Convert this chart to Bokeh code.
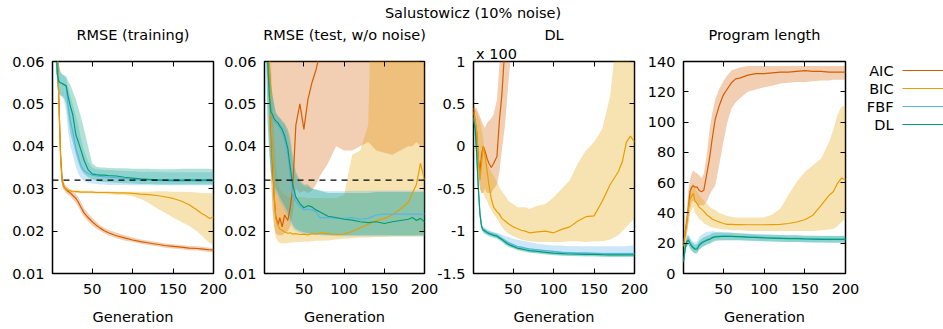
from bokeh.plotting import figure
from bokeh.models import Range1d, FixedTicker, LinearAxis, Span, Div
from bokeh.layouts import row, column
from bokeh.embed import file_html
from bokeh.resources import INLINE
from bokeh.core.properties import value

# ---------------- data ----------------
GEN = [1, 3, 5, 7, 9, 11, 13, 15, 18, 20, 23, 26, 30, 33, 36, 40, 45, 50, 55, 60,
       65, 70, 80, 90, 100, 110, 120, 130, 140, 150, 160, 170, 180, 185, 190, 195, 200]

SERIES = ["AIC", "BIC", "FBF", "DL"]
COLORS = ["#d55e00", "#e69f00", "#56b4e9", "#009e73"]

MAIN_TITLE = "Salustowicz (10% noise)"
PANEL_TITLES = ["RMSE (training)", "RMSE (test, w/o noise)", "DL", "Program length"]
X_LABEL = "Generation"
X_TICKS = [50, 100, 150, 200]
X_TICK_LABELS = ["50", "100", "150", "200"]
RMSE_TICKS = [0.01, 0.02, 0.03, 0.04, 0.05, 0.06]
RMSE_TICK_LABELS = ["0.01", "0.02", "0.03", "0.04", "0.05", "0.06"]
DL_TICKS = [-1.5, -1, -0.5, 0, 0.5, 1]
DL_TICK_LABELS = ["-1.5", "-1", "-0.5", "0", "0.5", "1"]
DL_SCALE_NOTE = "x 100"
LEN_TICKS = [0, 20, 40, 60, 80, 100, 120, 140]
LEN_TICK_LABELS = ["0", "20", "40", "60", "80", "100", "120", "140"]
NOISE_RMSE = 0.032

# --- RMSE (training)
TR_AIC = [0.11, 0.09, 0.075, 0.062, 0.05, 0.038, 0.032, 0.0305, 0.0298, 0.0294,
          0.029, 0.0284, 0.0277, 0.0268, 0.0257, 0.0243, 0.0232, 0.0222, 0.0214, 0.0207,
          0.0201, 0.0196, 0.0189, 0.0184, 0.0179, 0.0175, 0.0172, 0.0169, 0.0166, 0.0164,
          0.0162, 0.016, 0.0159, 0.0158, 0.0157, 0.0156, 0.0155]
TR_AIC_HI = [0.12, 0.1, 0.08, 0.066, 0.054, 0.041, 0.0335, 0.0315, 0.0306, 0.0302,
             0.0298, 0.0293, 0.0287, 0.0279, 0.0268, 0.0254, 0.0242, 0.0231, 0.0222, 0.0214,
             0.0208, 0.0203, 0.0196, 0.019, 0.0185, 0.018, 0.0177, 0.0174, 0.0171, 0.0169,
             0.0167, 0.0165, 0.0164, 0.0163, 0.0162, 0.0161, 0.016]
TR_AIC_LO = [0.1, 0.08, 0.07, 0.058, 0.046, 0.035, 0.0305, 0.0297, 0.029, 0.0286,
             0.0282, 0.0275, 0.0267, 0.0257, 0.0246, 0.0233, 0.0223, 0.0214, 0.0206, 0.02,
             0.0195, 0.019, 0.0183, 0.0178, 0.0174, 0.017, 0.0167, 0.0164, 0.0161, 0.0159,
             0.0157, 0.0155, 0.0154, 0.0153, 0.0152, 0.0151, 0.015]
TR_BIC = [0.11, 0.09, 0.075, 0.062, 0.05, 0.037, 0.0315, 0.0305, 0.0299, 0.0297,
          0.0295, 0.0294, 0.0293, 0.0293, 0.0292, 0.0292, 0.0292, 0.0292, 0.0291, 0.0291,
          0.0291, 0.0291, 0.029, 0.029, 0.0289, 0.0287, 0.0286, 0.0284, 0.0281, 0.0277,
          0.0271, 0.0262, 0.0249, 0.0242, 0.0237, 0.023, 0.0233]
TR_BIC_HI = [0.12, 0.1, 0.08, 0.066, 0.054, 0.04, 0.0322, 0.031, 0.0303, 0.03,
             0.0298, 0.0297, 0.0296, 0.0296, 0.0295, 0.0295, 0.0295, 0.0295, 0.0294, 0.0294,
             0.0294, 0.0294, 0.0293, 0.0293, 0.0293, 0.0293, 0.0293, 0.0294, 0.0294, 0.0293,
             0.0293, 0.0292, 0.0291, 0.029, 0.029, 0.0289, 0.0289]
TR_BIC_LO = [0.1, 0.08, 0.07, 0.058, 0.046, 0.034, 0.0308, 0.03, 0.0295, 0.0293,
             0.0292, 0.0291, 0.029, 0.029, 0.0289, 0.0289, 0.0289, 0.0289, 0.0288, 0.0288,
             0.0288, 0.0287, 0.0286, 0.0285, 0.0282, 0.0276, 0.0266, 0.0254, 0.0243, 0.0232,
             0.0222, 0.0212, 0.0199, 0.019, 0.0181, 0.0173, 0.0168]
TR_FBF = [0.11, 0.085, 0.065, 0.057, 0.0552, 0.055, 0.0548, 0.0545, 0.054, 0.05,
          0.046, 0.0435, 0.0394, 0.0375, 0.0355, 0.0342, 0.0336, 0.0332, 0.033, 0.0329,
          0.0328, 0.0327, 0.0326, 0.0324, 0.0322, 0.0321, 0.032, 0.0319, 0.0319, 0.0318,
          0.0318, 0.0319, 0.0318, 0.0318, 0.0319, 0.0318, 0.0318]
TR_FBF_HI = [0.12, 0.095, 0.072, 0.063, 0.059, 0.0575, 0.057, 0.0565, 0.056, 0.054,
             0.052, 0.05, 0.047, 0.045, 0.042, 0.039, 0.0365, 0.035, 0.0346, 0.0345,
             0.0344, 0.0344, 0.0343, 0.0342, 0.0341, 0.034, 0.034, 0.034, 0.0339, 0.0339,
             0.0339, 0.0339, 0.0339, 0.0339, 0.0339, 0.0339, 0.0339]
TR_FBF_LO = [0.1, 0.075, 0.06, 0.054, 0.0525, 0.052, 0.0515, 0.051, 0.048, 0.044,
             0.04, 0.038, 0.035, 0.0335, 0.0325, 0.0318, 0.0314, 0.0312, 0.0311, 0.031,
             0.031, 0.0309, 0.0309, 0.0309, 0.0308, 0.0308, 0.0308, 0.0308, 0.0308, 0.0308,
             0.0308, 0.0308, 0.0308, 0.0308, 0.0308, 0.0308, 0.0308]
TR_DL = [0.11, 0.085, 0.065, 0.057, 0.0552, 0.055, 0.0548, 0.0546, 0.0543, 0.052,
         0.0495, 0.0475, 0.0426, 0.041, 0.0392, 0.0367, 0.0345, 0.0335, 0.0333, 0.0332,
         0.0332, 0.0331, 0.033, 0.0327, 0.0325, 0.0323, 0.0322, 0.0321, 0.032, 0.032,
         0.032, 0.0321, 0.032, 0.032, 0.0321, 0.032, 0.0319]
TR_DL_HI = [0.12, 0.095, 0.072, 0.063, 0.059, 0.0575, 0.057, 0.0568, 0.0565, 0.0555,
            0.0545, 0.053, 0.051, 0.049, 0.047, 0.044, 0.04, 0.036, 0.0352, 0.035,
            0.035, 0.0349, 0.0348, 0.0348, 0.0347, 0.0347, 0.0347, 0.0346, 0.0346, 0.0346,
            0.0347, 0.0347, 0.0347, 0.0347, 0.0347, 0.0347, 0.0346]
TR_DL_LO = [0.1, 0.075, 0.06, 0.054, 0.0525, 0.052, 0.0518, 0.0515, 0.05, 0.047,
            0.043, 0.041, 0.038, 0.036, 0.0345, 0.0335, 0.0327, 0.0322, 0.0319, 0.0317,
            0.0316, 0.0315, 0.0314, 0.0313, 0.0312, 0.0311, 0.0311, 0.031, 0.031, 0.031,
            0.031, 0.031, 0.031, 0.031, 0.031, 0.031, 0.031]

# --- RMSE (test, w/o noise)
TE_AIC = [0.11, 0.09, 0.075, 0.06, 0.045, 0.036, 0.028, 0.0235, 0.0215, 0.0232,
          0.021, 0.0238, 0.0225, 0.0255, 0.03, 0.045, 0.05, 0.044, 0.051, 0.055,
          0.058, 0.062, 0.07, 0.075, 0.08, 0.08, 0.08, 0.08, 0.08, 0.08,
          0.08, 0.08, 0.08, 0.08, 0.08, 0.08, 0.08]
TE_AIC_HI = [0.12, 0.12, 0.12, 0.12, 0.12, 0.12, 0.12, 0.12, 0.12, 0.12,
             0.12, 0.12, 0.12, 0.12, 0.12, 0.12, 0.12, 0.12, 0.12, 0.12,
             0.12, 0.12, 0.12, 0.12, 0.12, 0.12, 0.12, 0.12, 0.12, 0.12,
             0.12, 0.12, 0.12, 0.12, 0.12, 0.12, 0.12]
TE_AIC_LO = [0.1, 0.08, 0.06, 0.045, 0.033, 0.025, 0.021, 0.0195, 0.019, 0.019,
             0.019, 0.0195, 0.02, 0.021, 0.024, 0.03, 0.029, 0.0295, 0.029, 0.0295,
             0.031, 0.033, 0.036, 0.04, 0.039, 0.039, 0.04, 0.041, 0.039, 0.0385,
             0.038, 0.039, 0.04, 0.04, 0.041, 0.04, 0.04]
TE_BIC = [0.11, 0.09, 0.075, 0.06, 0.047, 0.038, 0.029, 0.023, 0.0212, 0.0205,
          0.0202, 0.0198, 0.0195, 0.0196, 0.0193, 0.0194, 0.0192, 0.0193, 0.0191, 0.0194,
          0.0193, 0.0195, 0.0194, 0.0192, 0.0193, 0.0199, 0.0208, 0.0216, 0.0224, 0.023,
          0.0238, 0.0252, 0.0268, 0.029, 0.031, 0.036, 0.032]
TE_BIC_HI = [0.12, 0.11, 0.09, 0.075, 0.06, 0.05, 0.042, 0.036, 0.032, 0.03,
             0.029, 0.0285, 0.028, 0.028, 0.028, 0.028, 0.028, 0.028, 0.0278, 0.0278,
             0.0278, 0.0278, 0.0278, 0.0278, 0.0285, 0.038, 0.039, 0.045, 0.12, 0.12,
             0.12, 0.12, 0.12, 0.12, 0.12, 0.12, 0.12]
TE_BIC_LO = [0.1, 0.08, 0.06, 0.045, 0.034, 0.026, 0.021, 0.0185, 0.0175, 0.0172,
             0.0171, 0.0171, 0.0172, 0.0173, 0.0173, 0.0174, 0.0174, 0.0175, 0.0175, 0.0176,
             0.0177, 0.0177, 0.0178, 0.018, 0.0182, 0.0183, 0.0185, 0.0185, 0.0186, 0.0186,
             0.0187, 0.0187, 0.0187, 0.0187, 0.0187, 0.0187, 0.0187]
TE_FBF = [0.1, 0.075, 0.06, 0.052, 0.048, 0.047, 0.046, 0.0455, 0.045, 0.0442,
          0.0432, 0.0415, 0.038, 0.033, 0.029, 0.027, 0.0258, 0.025, 0.0252, 0.025,
          0.0245, 0.0232, 0.0232, 0.023, 0.023, 0.0232, 0.0228, 0.023, 0.0238, 0.024,
          0.024, 0.024, 0.024, 0.024, 0.024, 0.024, 0.024]
TE_FBF_HI = [0.12, 0.09, 0.07, 0.06, 0.055, 0.052, 0.05, 0.048, 0.047, 0.0465,
             0.0455, 0.045, 0.043, 0.04, 0.036, 0.033, 0.0315, 0.0305, 0.0305, 0.03,
             0.0298, 0.0296, 0.0294, 0.0294, 0.0294, 0.0295, 0.0295, 0.0295, 0.0296, 0.0296,
             0.0296, 0.0296, 0.0296, 0.0296, 0.0296, 0.0296, 0.0296]
TE_FBF_LO = [0.09, 0.06, 0.045, 0.038, 0.034, 0.032, 0.03, 0.029, 0.028, 0.027,
             0.026, 0.025, 0.0235, 0.022, 0.0207, 0.02, 0.0196, 0.0194, 0.0193, 0.0192,
             0.0191, 0.019, 0.0189, 0.0188, 0.0188, 0.0188, 0.0188, 0.0188, 0.0188, 0.0188,
             0.0188, 0.0188, 0.0188, 0.0188, 0.0188, 0.0188, 0.0188]
TE_DL = [0.1, 0.075, 0.06, 0.052, 0.048, 0.0475, 0.0465, 0.046, 0.0455, 0.0448,
         0.044, 0.0425, 0.0395, 0.035, 0.031, 0.028, 0.0265, 0.0255, 0.026, 0.0257,
         0.025, 0.0245, 0.0235, 0.0232, 0.0228, 0.0226, 0.0222, 0.022, 0.0222, 0.0218,
         0.0222, 0.0225, 0.0228, 0.0232, 0.0225, 0.023, 0.0222]
TE_DL_HI = [0.12, 0.09, 0.07, 0.06, 0.055, 0.052, 0.05, 0.048, 0.047, 0.0468,
            0.046, 0.0455, 0.044, 0.042, 0.038, 0.034, 0.032, 0.031, 0.031, 0.03,
            0.0298, 0.0295, 0.029, 0.029, 0.029, 0.029, 0.029, 0.029, 0.0292, 0.0292,
            0.0292, 0.0292, 0.0292, 0.0292, 0.0292, 0.0292, 0.0292]
TE_DL_LO = [0.09, 0.06, 0.045, 0.038, 0.034, 0.032, 0.031, 0.03, 0.029, 0.028,
            0.027, 0.026, 0.0245, 0.023, 0.0215, 0.0205, 0.02, 0.0197, 0.0195, 0.0194,
            0.0193, 0.0192, 0.0191, 0.019, 0.019, 0.019, 0.019, 0.019, 0.019, 0.019,
            0.019, 0.019, 0.019, 0.019, 0.019, 0.019, 0.019]

# --- DL (x 100)
DL_AIC = [0.45, 0.3, 0.17, -0.15, -0.3, -0.1, 0.0, -0.05, -0.15, -0.2,
          -0.25, -0.2, -0.12, 0.3, 0.6, 1.2, 1.8, 2.2, 2.5, 2.7,
          2.8, 2.9, 3.0, 3.0, 3.0, 3.0, 3.0, 3.0, 3.0, 3.0,
          3.0, 3.0, 3.0, 3.0, 3.0, 3.0, 3.0]
DL_AIC_HI = [0.5, 0.45, 0.45, 0.4, 0.35, 0.3, 0.25, 0.22, 0.28, 0.3,
             0.33, 0.38, 0.55, 0.95, 1.4, 2.0, 2.6, 3.0, 3.3, 3.5,
             3.6, 3.7, 3.8, 3.8, 3.8, 3.8, 3.8, 3.8, 3.8, 3.8,
             3.8, 3.8, 3.8, 3.8, 3.8, 3.8, 3.8]
DL_AIC_LO = [0.35, 0.2, 0.0, -0.35, -0.5, -0.55, -0.55, -0.5, -0.55, -0.55,
             -0.55, -0.5, -0.45, -0.3, -0.05, 0.25, 0.85, 1.3, 1.8, 2.0,
             2.1, 2.2, 2.3, 2.3, 2.3, 2.3, 2.3, 2.3, 2.3, 2.3,
             2.3, 2.3, 2.3, 2.3, 2.3, 2.3, 2.3]
DL_BIC = [0.4, 0.3, 0.17, -0.15, -0.4, -0.2, 0.0, -0.1, -0.3, -0.45,
          -0.62, -0.72, -0.77, -0.8, -0.85, -0.88, -0.92, -0.95, -0.97, -0.99,
          -1.0, -1.02, -1.01, -1.0, -1.02, -0.98, -0.95, -0.88, -0.83, -0.82,
          -0.65, -0.45, -0.3, -0.18, 0.05, 0.12, 0.05]
DL_BIC_HI = [0.5, 0.45, 0.4, 0.35, 0.3, 0.2, 0.1, -0.1, -0.2, -0.25,
             -0.3, -0.35, -0.42, -0.48, -0.53, -0.58, -0.65, -0.68, -0.72, -0.72,
             -0.72, -0.74, -0.7, -0.68, -0.6, -0.5, -0.4, -0.2, -0.05, 0.05,
             0.2, 0.6, 1.5, 2.0, 2.0, 2.0, 2.0]
DL_BIC_LO = [0.3, 0.2, 0.0, -0.3, -0.5, -0.55, -0.55, -0.6, -0.65, -0.7,
             -0.75, -0.8, -0.85, -0.9, -0.95, -1.0, -1.03, -1.06, -1.08, -1.1,
             -1.11, -1.12, -1.13, -1.13, -1.13, -1.13, -1.12, -1.12, -1.13, -1.12,
             -1.12, -1.1, -1.05, -1.0, -0.95, -0.9, -0.85]
DL_FBF = [0.34, 0.2, -0.1, -0.5, -0.8, -0.94, -0.98, -0.99, -1.01, -1.02,
          -1.03, -1.04, -1.05, -1.07, -1.09, -1.11, -1.14, -1.16, -1.18, -1.19,
          -1.2, -1.21, -1.22, -1.23, -1.24, -1.25, -1.255, -1.26, -1.26, -1.265,
          -1.265, -1.265, -1.265, -1.265, -1.265, -1.265, -1.265]
DL_FBF_HI = [0.38, 0.25, -0.05, -0.45, -0.75, -0.9, -0.95, -0.96, -0.98, -0.99,
             -1.0, -1.01, -1.02, -1.03, -1.04, -1.06, -1.07, -1.09, -1.1, -1.11,
             -1.12, -1.13, -1.15, -1.16, -1.17, -1.17, -1.18, -1.18, -1.18, -1.18,
             -1.18, -1.18, -1.18, -1.18, -1.18, -1.17, -1.17]
DL_FBF_LO = [0.3, 0.15, -0.15, -0.55, -0.85, -0.97, -1.01, -1.03, -1.04, -1.05,
             -1.06, -1.07, -1.08, -1.1, -1.12, -1.15, -1.18, -1.2, -1.22, -1.23,
             -1.24, -1.25, -1.26, -1.27, -1.28, -1.285, -1.29, -1.29, -1.295, -1.295,
             -1.3, -1.3, -1.3, -1.3, -1.3, -1.3, -1.3]
DL_DL = [0.33, 0.2, -0.1, -0.5, -0.8, -0.95, -0.99, -1.0, -1.02, -1.03,
         -1.04, -1.05, -1.06, -1.08, -1.1, -1.13, -1.16, -1.18, -1.2, -1.21,
         -1.22, -1.23, -1.24, -1.25, -1.26, -1.265, -1.27, -1.272, -1.275, -1.275,
         -1.278, -1.28, -1.28, -1.28, -1.28, -1.28, -1.28]
DL_DL_HI = [0.36, 0.23, -0.07, -0.47, -0.77, -0.92, -0.96, -0.97, -0.99, -1.0,
            -1.01, -1.02, -1.03, -1.05, -1.07, -1.1, -1.13, -1.155, -1.175, -1.185,
            -1.195, -1.205, -1.215, -1.225, -1.235, -1.24, -1.245, -1.25, -1.25, -1.25,
            -1.255, -1.255, -1.255, -1.255, -1.255, -1.255, -1.255]
DL_DL_LO = [0.3, 0.17, -0.13, -0.53, -0.83, -0.98, -1.02, -1.03, -1.05, -1.06,
            -1.07, -1.08, -1.09, -1.11, -1.13, -1.16, -1.19, -1.205, -1.225, -1.235,
            -1.245, -1.255, -1.265, -1.275, -1.285, -1.29, -1.295, -1.297, -1.3, -1.3,
            -1.303, -1.305, -1.305, -1.305, -1.305, -1.305, -1.305]

# --- Program length
PL_AIC = [18, 27, 34, 43, 54, 57, 58, 57, 57, 55,
          54, 55, 67, 76, 88, 102, 111, 118, 122, 126,
          128.5, 129, 131, 132, 132, 132.5, 133, 133, 133.5, 134,
          133.5, 133.5, 133, 133, 133, 133, 133]
PL_AIC_HI = [22, 32, 42, 55, 62, 66, 68, 67, 66, 65,
             63, 66, 80, 95, 105, 115, 122, 127, 131, 134,
             135, 136, 137, 137, 137, 137, 137, 137, 137, 137,
             137, 137, 137, 137, 137, 137, 137]
PL_AIC_LO = [12, 20, 26, 33, 42, 47, 48, 47, 46, 45,
             45, 45, 48, 52, 55, 58, 72, 87, 100, 109,
             113, 115.5, 120, 121.5, 123, 124, 125.5, 126, 126.5, 126.5,
             127, 127.5, 127.5, 128, 128, 128, 128]
PL_BIC = [18, 27, 33, 43, 49, 51, 53, 48, 46, 44,
          42.5, 41, 38.5, 37.5, 36, 35, 34, 33, 32.5, 32.4,
          32.3, 32.3, 32.2, 32.2, 32.2, 32.3, 32.4, 33, 34, 35.5,
          38.5, 45, 51.7, 54, 59.4, 63, 62]
PL_BIC_HI = [22, 32, 40, 50, 56, 58, 60, 56, 54, 52,
             50, 48, 46, 44, 43, 42, 40, 39, 38, 37.5,
             37, 37, 37, 37, 37, 39, 43, 52, 60.5, 67,
             71.5, 76, 87, 95, 104.5, 110, 111]
PL_BIC_LO = [12, 20, 26, 33, 40, 42, 44, 40, 38, 36,
             35, 33, 32, 31, 30.5, 30, 29.5, 29, 29, 28.5,
             28.5, 28.5, 28, 28, 28, 28, 28, 28, 28, 28,
             28, 28.5, 29, 29.5, 31, 34, 36]
PL_FBF = [8, 16.5, 21.5, 22.5, 20.5, 18.5, 17.5, 16.5, 17, 19,
          20.5, 21.5, 22.5, 23, 24, 24.5, 24.7, 24.8, 24.7, 24.6,
          24.5, 24.4, 24.2, 24, 23.8, 23.6, 23.4, 23.2, 23.2, 23,
          22.9, 22.8, 22.7, 22.7, 22.7, 22.7, 22.7]
PL_FBF_HI = [11, 20, 25, 26, 24, 22, 21, 20.5, 21.5, 24,
             25.5, 26.5, 27.5, 27.5, 28, 27.5, 27.5, 27, 27, 26.8,
             26.6, 26.4, 26.2, 26, 25.8, 25.6, 25.4, 25.2, 25.2, 25,
             25, 25, 25, 25, 25, 25, 25]
PL_FBF_LO = [5, 13, 18, 19, 17, 15, 14, 13.5, 14, 15.5,
             17, 18, 19.5, 20, 21, 22, 22, 22, 22, 22,
             22, 22, 21.8, 21.6, 21.4, 21.2, 21, 20.8, 20.8, 20.6,
             20.5, 20.5, 20.4, 20.4, 20.4, 20.4, 20.4]
PL_DL = [7.7, 16.5, 21, 22, 19.8, 18, 17, 16, 16.3, 18.5,
         20, 21, 22, 22.5, 23.5, 24.2, 24.4, 24.6, 24.5, 24.5,
         24.4, 24.3, 24, 23.8, 23.5, 23.4, 23.2, 23, 23, 22.8,
         22.7, 22.6, 22.5, 22.5, 22.5, 22.5, 22.5]
PL_DL_HI = [10.5, 19.5, 24, 25, 23, 21, 20, 19, 19.5, 21.5,
            23, 24, 25, 25.5, 26.5, 27, 27, 27, 27, 27,
            26.8, 26.6, 26.3, 26, 25.8, 25.6, 25.4, 25.2, 25.2, 25,
            24.9, 24.8, 24.7, 24.7, 24.7, 24.7, 24.7]
PL_DL_LO = [5, 13.5, 18, 19, 16.5, 15, 14, 13, 13.3, 15.5,
            17, 18, 19, 19.5, 20.5, 21.5, 21.8, 22, 22, 22,
            22, 22, 21.7, 21.5, 21.2, 21.1, 21, 20.8, 20.8, 20.6,
            20.5, 20.4, 20.3, 20.3, 20.3, 20.3, 20.3]

PANELS = [
    dict(title=PANEL_TITLES[0], yr=(0.01, 0.06), ticks=RMSE_TICKS, labels=RMSE_TICK_LABELS, noise=True,
         med=[TR_AIC, TR_BIC, TR_FBF, TR_DL], lo=[TR_AIC_LO, TR_BIC_LO, TR_FBF_LO, TR_DL_LO],
         hi=[TR_AIC_HI, TR_BIC_HI, TR_FBF_HI, TR_DL_HI]),
    dict(title=PANEL_TITLES[1], yr=(0.01, 0.06), ticks=RMSE_TICKS, labels=RMSE_TICK_LABELS, noise=True,
         med=[TE_AIC, TE_BIC, TE_FBF, TE_DL], lo=[TE_AIC_LO, TE_BIC_LO, TE_FBF_LO, TE_DL_LO],
         hi=[TE_AIC_HI, TE_BIC_HI, TE_FBF_HI, TE_DL_HI]),
    dict(title=PANEL_TITLES[2], yr=(-1.5, 1), ticks=DL_TICKS, labels=DL_TICK_LABELS, noise=False,
         med=[DL_AIC, DL_BIC, DL_FBF, DL_DL], lo=[DL_AIC_LO, DL_BIC_LO, DL_FBF_LO, DL_DL_LO],
         hi=[DL_AIC_HI, DL_BIC_HI, DL_FBF_HI, DL_DL_HI], note=DL_SCALE_NOTE),
    dict(title=PANEL_TITLES[3], yr=(0, 140), ticks=LEN_TICKS, labels=LEN_TICK_LABELS, noise=False,
         med=[PL_AIC, PL_BIC, PL_FBF, PL_DL], lo=[PL_AIC_LO, PL_BIC_LO, PL_FBF_LO, PL_DL_LO],
         hi=[PL_AIC_HI, PL_BIC_HI, PL_FBF_HI, PL_DL_HI]),
]
for pn in PANELS:
    for arr in pn["med"] + pn["lo"] + pn["hi"]:
        assert len(arr) == len(GEN), (pn["title"], len(arr))

# ---------------- layout / style ----------------
FONT = "DejaVu Sans"
FS = "14.5px"
TEXT_COLOR = "black"
PAGE_MARGIN = 8
DIV_H = 10
TOPB = 43
FRAME_H = 212
BOTB = 56
H = TOPB + FRAME_H + BOTB
FRAME_W = [161, 162, 161, 162]
LEFT_B = [44, 41, 41, 41]
RIGHT_B = 22
OVERLAP = 14
X_MIN, X_MAX = 1, 200
TITLE_GAP = 19   # distance between frame and a panel title
LINE_W = 1.2


def make_axis(ticks, labels, show, standoff):
    ax = LinearAxis(ticker=FixedTicker(ticks=ticks))
    ax.axis_line_color = None
    ax.major_tick_in = 5
    ax.major_tick_out = 0
    ax.minor_tick_in = 0
    ax.minor_tick_out = 0
    ax.major_tick_line_color = "black"
    ax.major_tick_line_width = 1
    ax.major_label_text_font = FONT
    ax.major_label_overrides = dict(zip(ticks, labels))
    ax.major_label_standoff = standoff
    if show:
        ax.major_label_text_font_size = FS
        ax.major_label_text_color = TEXT_COLOR
    else:
        ax.major_label_text_font_size = "1px"
        ax.major_label_text_color = None
    return ax


def title_axis(text, gap):
    # tick-less axis above the frame that carries the panel title
    ax = LinearAxis(ticker=FixedTicker(ticks=[]))
    ax.axis_line_color = None
    ax.major_tick_in = 0
    ax.major_tick_out = 0
    ax.minor_tick_in = 0
    ax.minor_tick_out = 0
    ax.major_label_text_color = None
    ax.major_label_text_font_size = "1px"
    ax.major_label_standoff = 0
    ax.axis_label = text
    ax.axis_label_standoff = gap
    ax.axis_label_text_font = FONT
    ax.axis_label_text_font_size = FS
    ax.axis_label_text_font_style = "normal"
    ax.axis_label_text_color = TEXT_COLOR
    return ax


figs = []
for i, pn in enumerate(PANELS):
    w = LEFT_B[i] + FRAME_W[i] + RIGHT_B
    p = figure(width=w, height=H, x_range=Range1d(X_MIN, X_MAX), y_range=Range1d(*pn["yr"]),
               output_backend="svg", toolbar_location=None,
               x_axis_location=None, y_axis_location=None,
               min_border_left=LEFT_B[i], min_border_right=RIGHT_B,
               min_border_top=TOPB, min_border_bottom=BOTB,
               background_fill_color=None, border_fill_color=None)
    p.outline_line_color = "black"
    p.outline_line_width = 1.5
    p.grid.visible = False
    p.title.text_font = FONT
    p.title.text_font_size = FS
    p.title.text_font_style = "normal"
    p.title.text_color = TEXT_COLOR
    p.title.align = "center"
    p.title.standoff = 0

    xb = make_axis(X_TICKS, X_TICK_LABELS, True, 10)
    xb.axis_label = X_LABEL
    xb.axis_label_text_font = FONT
    xb.axis_label_text_font_size = FS
    xb.axis_label_text_font_style = "normal"
    xb.axis_label_text_color = TEXT_COLOR
    xb.axis_label_standoff = 12
    p.add_layout(xb, "below")
    p.add_layout(make_axis(X_TICKS, X_TICK_LABELS, False, 0), "above")
    if "note" in pn:
        # scale note ("x 100") just above the top-left corner; panel title above it
        note_px = 23
        note_x = X_MIN + note_px * (X_MAX - X_MIN) / FRAME_W[i]
        na = LinearAxis(ticker=FixedTicker(ticks=[note_x]))
        na.major_label_overrides = {note_x: pn["note"]}
        na.axis_line_color = None
        na.major_tick_in = 0
        na.major_tick_out = 0
        na.minor_tick_in = 0
        na.minor_tick_out = 0
        na.major_label_standoff = 0
        na.major_label_text_font = FONT
        na.major_label_text_font_size = FS
        na.major_label_text_color = TEXT_COLOR
        p.add_layout(na, "above")
        p.title.text = pn["title"]
    else:
        p.add_layout(title_axis(pn["title"], TITLE_GAP), "above")
    p.add_layout(make_axis(pn["ticks"], pn["labels"], True, 8), "left")
    p.add_layout(make_axis(pn["ticks"], pn["labels"], False, 0), "right")

    for k in range(len(SERIES)):
        p.varea(x=GEN, y1=pn["lo"][k], y2=pn["hi"][k], fill_color=COLORS[k], fill_alpha=0.3)
    if pn["noise"]:
        p.add_layout(Span(location=NOISE_RMSE, dimension="width", line_color="black",
                          line_dash="6 5", line_width=1.2))
    for k in range(len(SERIES)):
        p.line(GEN, pn["med"][k], line_color=COLORS[k], line_width=LINE_W)
    p.margin = (0, 0, 0, -OVERLAP) if i > 0 else (0, 0, 0, 0)
    figs.append(p)

# legend (labels left of sample lines, as in the original); frame is aligned with the panels
LEG_W = 90
lg = figure(width=LEG_W, height=H, x_range=Range1d(0, LEG_W), y_range=Range1d(FRAME_H, 0),
            output_backend="svg", toolbar_location=None,
            x_axis_location=None, y_axis_location=None,
            min_border_left=0, min_border_right=0, min_border_top=TOPB, min_border_bottom=BOTB,
            background_fill_color=None, border_fill_color=None)
lg.outline_line_color = None
lg.grid.visible = False
LEG_TOP = 9
LEG_STEP = 18
ys = [LEG_TOP + LEG_STEP * k for k in range(len(SERIES))]
lg.text(x=[40] * len(SERIES), y=ys, text=SERIES, text_align="right", text_baseline="middle",
        text_font=value(FONT), text_font_size=FS, text_color=TEXT_COLOR)
lg.segment(x0=[49] * len(SERIES), y0=ys, x1=[LEG_W] * len(SERIES), y1=ys,
           line_color=COLORS, line_width=LINE_W)
lg.margin = (0, 0, 0, -OVERLAP)

title_div = Div(text=f'<div style="width:930px;text-align:center;font-family:\'DejaVu Sans\';'
                     f'font-size:14.5px;line-height:{DIV_H}px;color:black;white-space:nowrap;'
                     f'transform:translateY(-2px)">{MAIN_TITLE}</div>',
                width=930, height=DIV_H, margin=(0, 0, 0, 0))

layout = column(title_div, row(*figs, lg, spacing=0, margin=(0, 0, 0, 0)), spacing=0,
                margin=(PAGE_MARGIN, 0, 0, PAGE_MARGIN))

open("out.html", "w").write(file_html(layout, INLINE))
